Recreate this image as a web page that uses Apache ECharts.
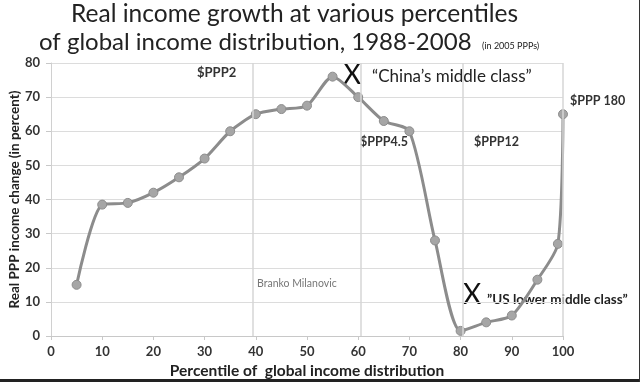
<!DOCTYPE html>
<html><head><meta charset="utf-8">
<script src="https://cdn.jsdelivr.net/npm/echarts@6/dist/echarts.min.js"></script>
<style>
html,body{margin:0;padding:0;background:#fff;}
#c{width:640px;height:382px;position:relative;}
#bb{position:absolute;left:0;top:379px;width:640px;height:3px;background:#222;}
#rb{position:absolute;left:639px;top:0;width:1px;height:382px;background:#333;}
</style></head>
<body>
<div id="c"></div><div id="bb"></div><div id="rb"></div>
<script>
const percentiles = [5,10,15,20,25,30,35,40,45,50,55,60,65,70,75,80,85,90,95,99,100];
const growth = [15,38.5,39,42,46.5,52,60,65,66.5,67.5,76,70,63,60,28,1.5,4,6,16.5,27,65];
const thresholdLines = [39.5,60.5,80.5,100];
const yTicks = [0,10,20,30,40,50,60,70,80];

const chart = echarts.init(document.getElementById('c'));
const font = 'Lato, "Open Sans", sans-serif';
chart.setOption({
  animation:false,
  grid:{left:51,right:77,top:63,bottom:46,containLabel:false,outerBoundsMode:'none'},
  xAxis:{type:'value',min:0,max:100,interval:10,
    axisLine:{show:true,lineStyle:{color:'#c8c8c8',width:1}},
    axisTick:{show:true,length:4,lineStyle:{color:'#c8c8c8'}},
    axisLabel:{color:'#333',fontSize:13,fontWeight:'bold',fontFamily:font,margin:9},
    splitLine:{show:false},
    name:'Percentile of  global income distribution',nameLocation:'middle',nameGap:27,nameMoveOverlap:false,
    nameTextStyle:{color:'#222',fontSize:15.5,fontWeight:'bold',fontFamily:font}
  },
  yAxis:{type:'value',min:0,max:80,interval:10,
    axisLine:{show:true,lineStyle:{color:'#d0d0d0'}},
    axisTick:{show:true,length:5,lineStyle:{color:'#c8c8c8'}},
    axisLabel:{color:'#333',fontSize:13,fontWeight:'bold',fontFamily:font,margin:11},
    splitLine:{show:true,lineStyle:{color:'#dcdcdc',width:1}},
    name:'Real PPP income change (in percent)',nameLocation:'middle',nameGap:29,nameMoveOverlap:false,
    nameTextStyle:{color:'#222',fontSize:13.5,fontWeight:'bold',fontFamily:font}
  },
  series:[{type:'line',data:percentiles.map((p,i)=>[p,growth[i]]),smooth:0.25,
    symbol:'circle',symbolSize:9,
    lineStyle:{color:'#8c8c8c',width:3},
    itemStyle:{color:'#a6a6a6',borderColor:'#8c8c8c',borderWidth:1},
    markLine:{silent:true,symbol:'none',label:{show:false},
      lineStyle:{color:'#d6d6d6',width:1.5,type:'solid'},
      data:thresholdLines.map(v=>({xAxis:v}))},
    z:3
  }],
  graphic:[
    {type:'text',left:71,top:2,style:{text:'Real income growth at various percentiles',font:'24.5px '+font,fill:'#222'}},
    {type:'text',left:39,top:30,style:{text:'of global income distribution, 1988-2008',font:'24px '+font,fill:'#222'}},
    {type:'text',left:482,top:42,style:{text:'(in 2005 PPPs)',font:'9px '+font,fill:'#222'}},
    {type:'text',left:197,top:66,style:{text:'$PPP2',font:'bold 13px '+font,fill:'#333'}},
    {type:'text',left:343,top:61,style:{text:'X',font:'28px '+font,fill:'#111'}},
    {type:'text',left:372,top:68,style:{text:'\u201cChina\u2019s middle class\u201d',font:'17px '+font,fill:'#222'}},
    {type:'text',left:570,top:94,style:{text:'$PPP 180',font:'bold 12.5px '+font,fill:'#333'}},
    {type:'text',left:360,top:135,style:{text:'$PPP4.5',font:'bold 12.5px '+font,fill:'#333'}},
    {type:'text',left:474,top:135,style:{text:'$PPP12',font:'bold 12.5px '+font,fill:'#333'}},
    {type:'text',left:257,top:278,style:{text:'Branko Milanovic',font:'10.5px '+font,fill:'#777'}},
    {type:'text',left:463,top:281,style:{text:'X',font:'28px '+font,fill:'#111'}},
    {type:'text',left:487,top:293,style:{text:'\u201dUS lower middle class\u201d',font:'bold 13.5px '+font,fill:'#222'}}
  ]
});
</script>
</body></html>
